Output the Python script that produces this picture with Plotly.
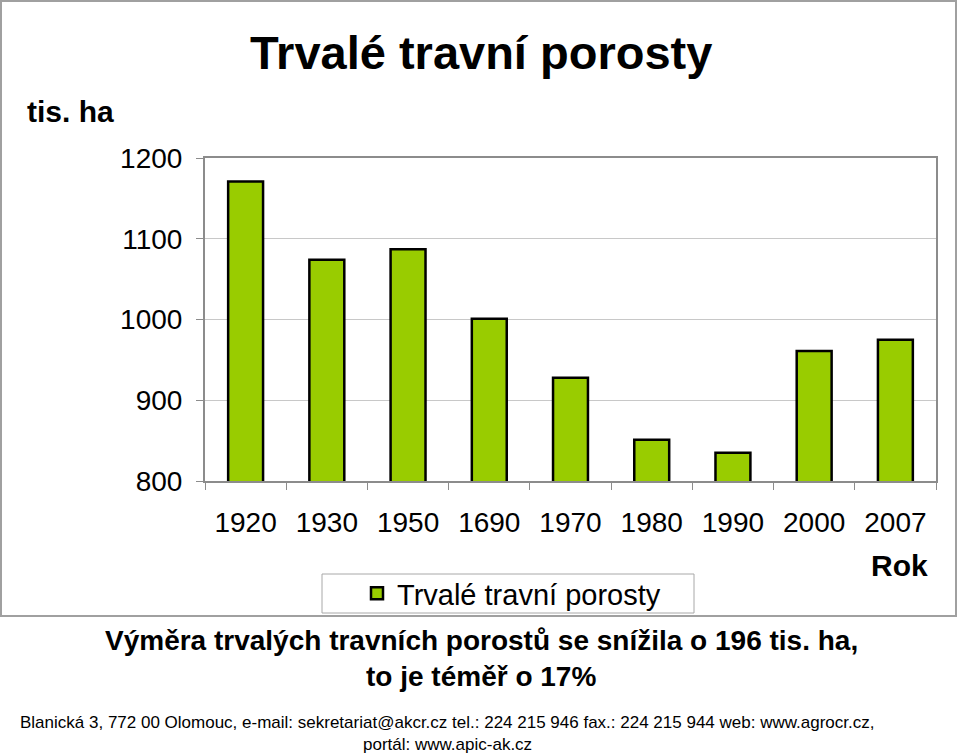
import plotly.graph_objects as go

years = ["1920", "1930", "1950", "1690", "1970", "1980", "1990", "2000", "2007"]
values = [1171, 1074, 1087, 1001, 928, 851, 835, 961, 975]
y_ticks = [800, 900, 1000, 1100, 1200]

W, H = 959, 755
L, R, T, B = 205, 936, 158, 481
FONT = "Arial, Liberation Sans, sans-serif"


def px(x):
    return (x - L) / (R - L)


def py(y):
    return (B - y) / (B - T)


fig = go.Figure()
fig.add_trace(go.Bar(
    x=years, y=values, name="Trvalé travní porosty",
    marker=dict(color="#99cc00", line=dict(color="#000000", width=2.5)),
    showlegend=True,
))

fig.update_layout(
    width=W, height=H,
    margin=dict(l=L, r=W - R, t=T, b=H - B, pad=0),
    paper_bgcolor="white", plot_bgcolor="white",
    bargap=0.57,
    font=dict(family=FONT, color="#000000", size=28),
    showlegend=True,
    legend=dict(
        x=px(357), xanchor="left", y=py(568), yanchor="top",
        font=dict(size=29, family=FONT), borderwidth=0,
        bgcolor="rgba(0,0,0,0)",
    ),
    xaxis=dict(
        type="category", showgrid=False,
        showline=True, linecolor="#8c8c8c", linewidth=2, mirror=True,
        ticks="outside", tickson="boundaries", ticklen=7, tickcolor="#8c8c8c",
        tickfont=dict(size=28), ticklabelstandoff=15,
    ),
    yaxis=dict(
        range=[800, 1200], tickvals=y_ticks,
        showgrid=True, gridcolor="#c8c8c8", gridwidth=1,
        showline=True, linecolor="#8c8c8c", linewidth=2, mirror=True,
        ticks="outside", ticklen=7, tickcolor="#8c8c8c",
        tickfont=dict(size=28), ticklabelstandoff=8,
        zeroline=False,
    ),
)

shapes = [
    # outer chart frame
    dict(type="rect", xref="paper", yref="paper",
         x0=px(1), x1=px(956), y0=py(1), y1=py(616),
         line=dict(color="#a0a0a0", width=2), fillcolor="rgba(0,0,0,0)", layer="below"),
    # legend frame
    dict(type="rect", xref="paper", yref="paper",
         x0=px(322), x1=px(694), y0=py(574), y1=py(613),
         line=dict(color="#a8a8a8", width=1), fillcolor="rgba(0,0,0,0)"),
]
fig.update_layout(shapes=shapes)

annotations = [
    dict(text="<b>Trvalé travní porosty</b>", x=px(481), y=py(52),
         font=dict(size=47)),
    dict(text="<b>tis. ha</b>", x=px(70), y=py(112), font=dict(size=30)),
    dict(text="<b>Rok</b>", x=px(899), y=py(565), font=dict(size=30)),
    dict(text="<b>Výměra trvalých travních porostů se snížila o 196 tis. ha,</b>",
         x=px(481), y=py(640), font=dict(size=28)),
    dict(text="<b>to je téměř o 17%</b>", x=px(481), y=py(676), font=dict(size=28)),
    dict(text="Blanická 3, 772 00 Olomouc, e-mail: sekretariat@akcr.cz tel.: 224 215 946 fax.: 224 215 944 web: www.agrocr.cz,",
         x=px(447), y=py(722), font=dict(size=17)),
    dict(text="portál: www.apic-ak.cz", x=px(447), y=py(744), font=dict(size=17)),
]
for a in annotations:
    a.update(xref="paper", yref="paper", showarrow=False,
             xanchor="center", yanchor="middle")
    a["font"]["family"] = FONT
    a["font"]["color"] = "#000000"
fig.update_layout(annotations=annotations)

fig.write_html("out.html")
